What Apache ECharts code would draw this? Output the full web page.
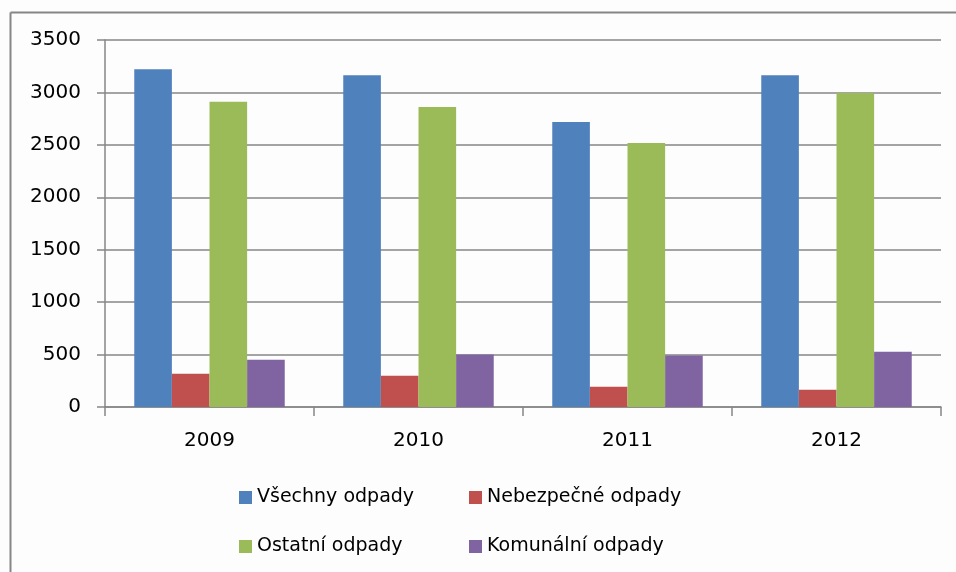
<!DOCTYPE html>
<html>
<head>
<meta charset="utf-8">
<script src="https://cdn.jsdelivr.net/npm/echarts@6/dist/echarts.min.js"></script>
<style>
  html, body { margin: 0; padding: 0; background: #fff; }
  #chart { width: 956px; height: 572px; }
</style>
</head>
<body>
<div id="chart"></div>
<script>
// roky
const years = ['2009', '2010', '2011', '2012']
// hodnoty
const vsechny = [3220, 3165, 2717, 3165]
const nebezpecne = [317, 298, 193, 165]
const ostatni = [2910, 2860, 2517, 2995]
const komunalni = [450, 500, 492, 527]
const yTicks = [0, 500, 1000, 1500, 2000, 2500, 3000, 3500]

const font = 'DejaVu Sans'
const gray = '#868686'

const chart = echarts.init(document.getElementById('chart'))
const option = {
  backgroundColor: '#fdfdfd',
  animation: false,
  color: ['#4f81bd', '#c0504d', '#9bbb59', '#8064a2'],
  // rámeček jen nahoře a vlevo (zbytek je mimo obrázek)
  graphic: [
    {
      type: 'line',
      shape: { x1: 10.5, y1: 12.5, x2: 956, y2: 12.5 },
      style: { stroke: gray, lineWidth: 2 },
    },
    {
      type: 'line',
      shape: { x1: 10.5, y1: 12.5, x2: 10.5, y2: 572 },
      style: { stroke: gray, lineWidth: 2 },
    },
  ],
  grid: {
    left: 105,
    right: 15,
    top: 40,
    bottom: 165,
  },
  // legenda ve dvou sloupcích
  legend: [
    {
      data: ['Všechny odpady', 'Ostatní odpady'],
      orient: 'vertical',
      left: 234,
      top: 483,
      itemWidth: 13,
      itemHeight: 13,
      itemGap: 30,
      icon: 'rect',
      textStyle: { fontFamily: font, fontSize: 19, color: '#000' },
    },
    {
      data: ['Nebezpečné odpady', 'Komunální odpady'],
      orient: 'vertical',
      left: 464,
      top: 483,
      itemWidth: 13,
      itemHeight: 13,
      itemGap: 30,
      icon: 'rect',
      textStyle: { fontFamily: font, fontSize: 19, color: '#000' },
    },
  ],
  xAxis: {
    type: 'category',
    data: years,
    axisLine: { lineStyle: { color: gray, width: 1.5 } },
    axisTick: { show: true, length: 9, lineStyle: { color: gray, width: 1.5 } },
    axisLabel: { margin: 24, color: '#000', fontFamily: font, fontSize: 20 },
  },
  yAxis: {
    type: 'value',
    min: yTicks[0],
    max: yTicks[yTicks.length - 1],
    interval: 500,
    axisLine: { show: true, lineStyle: { color: gray, width: 1.5 } },
    axisTick: { show: true, length: 8, lineStyle: { color: gray, width: 1.5 } },
    splitLine: { lineStyle: { color: gray, width: 1.5 } },
    axisLabel: {
      margin: 24,
      color: '#000',
      fontFamily: font,
      fontSize: 20,
      formatter: (v) => String(v),
    },
  },
  series: [
    { name: 'Všechny odpady', type: 'bar', data: vsechny, barGap: '0%', barCategoryGap: '28%' },
    { name: 'Nebezpečné odpady', type: 'bar', data: nebezpecne, barGap: '0%', barCategoryGap: '28%' },
    { name: 'Ostatní odpady', type: 'bar', data: ostatni, barGap: '0%', barCategoryGap: '28%' },
    { name: 'Komunální odpady', type: 'bar', data: komunalni, barGap: '0%', barCategoryGap: '28%' },
  ],
}
chart.setOption(option)
</script>
</body>
</html>
